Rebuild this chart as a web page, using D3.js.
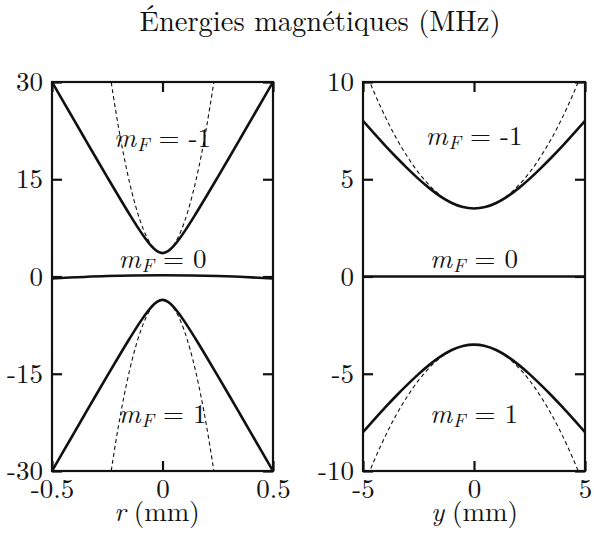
<!DOCTYPE html>
<html>
<head>
<meta charset="utf-8">
<script src="https://cdn.jsdelivr.net/npm/d3@7"></script>
<style>
  body { margin: 0; background: #fff; }
</style>
</head>
<body>
<div id="chart-area"></div>
<script>
// Left panel data : r (mm)
const rValues = [-0.5, -0.45, -0.4, -0.35, -0.3, -0.25, -0.2, -0.15, -0.1, -0.075, -0.05, -0.025, 0,
    0.025, 0.05, 0.075, 0.1, 0.15, 0.2, 0.25, 0.3, 0.35, 0.4, 0.45, 0.5];
const rMinusOne = [30.0, 27.06, 24.11, 21.17, 18.24, 15.33, 12.45, 9.64, 6.96, 5.74, 4.67, 3.90, 3.6,
    3.90, 4.67, 5.74, 6.96, 9.64, 12.45, 15.33, 18.24, 21.17, 24.11, 27.06, 30.0];
const rPlusOne = [-30.0, -27.06, -24.11, -21.17, -18.24, -15.33, -12.45, -9.64, -6.96, -5.74, -4.67, -3.90, -3.6,
    -3.90, -4.67, -5.74, -6.96, -9.64, -12.45, -15.33, -18.24, -21.17, -24.11, -27.06, -30.0];
const rZeroValues = [-0.5, -0.25, 0, 0.25, 0.5];
const rZero = [-0.3, 0.08, 0.2, 0.08, -0.3];
const rHarmValues = [-0.25, -0.225, -0.2, -0.175, -0.15, -0.125, -0.1, -0.075, -0.05, -0.025, 0,
    0.025, 0.05, 0.075, 0.1, 0.125, 0.15, 0.175, 0.2, 0.225, 0.25];
const rHarmMinusOne = [34.23, 28.41, 23.2, 18.61, 14.63, 11.26, 8.5, 6.36, 4.83, 3.91, 3.6,
    3.91, 4.83, 6.36, 8.5, 11.26, 14.63, 18.61, 23.2, 28.41, 34.23];
const rHarmPlusOne = [-34.23, -28.41, -23.2, -18.61, -14.63, -11.26, -8.5, -6.36, -4.83, -3.91, -3.6,
    -3.91, -4.83, -6.36, -8.5, -11.26, -14.63, -18.61, -23.2, -28.41, -34.23];

// Right panel data : y (mm)
const yValues = [-5, -4.5, -4, -3.5, -3, -2.5, -2, -1.5, -1, -0.5, 0, 0.5, 1, 1.5, 2, 2.5, 3, 3.5, 4, 4.5, 5];
const yMinusOne = [8.00, 7.36, 6.73, 6.13, 5.56, 5.02, 4.53, 4.11, 3.78, 3.57, 3.5,
    3.57, 3.78, 4.11, 4.53, 5.02, 5.56, 6.13, 6.73, 7.36, 8.00];
const yPlusOne = [-8.00, -7.36, -6.73, -6.13, -5.56, -5.02, -4.53, -4.11, -3.78, -3.57, -3.5,
    -3.57, -3.78, -4.11, -4.53, -5.02, -5.56, -6.13, -6.73, -7.36, -8.00];
const yZeroValues = [-5, 0, 5];
const yZero = [0, 0, 0];
const yHarmMinusOne = [10.88, 9.47, 8.22, 7.11, 6.16, 5.34, 4.68, 4.16, 3.80, 3.57, 3.5,
    3.57, 3.80, 4.16, 4.68, 5.34, 6.16, 7.11, 8.22, 9.47, 10.88];
const yHarmPlusOne = [-10.88, -9.47, -8.22, -7.11, -6.16, -5.34, -4.68, -4.16, -3.80, -3.57, -3.5,
    -3.57, -3.80, -4.16, -4.68, -5.34, -6.16, -7.11, -8.22, -9.47, -10.88];

// Ticks
const rTicksX = [-0.5, 0, 0.5];
const rTicksY = [-30, -15, 0, 15, 30];
const yTicksX = [-5, 0, 5];
const yTicksY = [-10, -5, 0, 5, 10];

// Labels
const stateLabels = ['-1', '0', '1'];
const titleText = 'Énergies magnétiques (MHz)';

const font = "'Latin Modern Roman', 'Liberation Serif', serif";
const ink = '#111';

// Build SVG
const svg = d3.select('#chart-area')
    .append('svg')
    .attr('width', 594)
    .attr('height', 534)
    .style('display', 'block');

// Title
svg.append('text')
    .attr('x', 320)
    .attr('y', 31)
    .attr('text-anchor', 'middle')
    .style('font-family', font)
    .style('font-size', '28.5px')
    .attr('fill', ink)
    .text(titleText);

const zip = (xs, ys) => xs.map((v, i) => [v, ys[i]]);

const panels = [
    {
        id: 'left', left: 52, right: 273, top: 82, bottom: 471,
        xDomain: [-0.5, 0.5], yDomain: [-30, 30],
        xTicks: rTicksX, yTicks: rTicksY,
        xName: 'r', titleX: 157,
        solid: [zip(rValues, rMinusOne), zip(rZeroValues, rZero), zip(rValues, rPlusOne)],
        dashed: [zip(rHarmValues, rHarmMinusOne), zip(rHarmValues, rHarmPlusOne)],
        labelY: [20, 1.3, -22.6]
    },
    {
        id: 'right', left: 363, right: 585, top: 82, bottom: 471,
        xDomain: [-5, 5], yDomain: [-10, 10],
        xTicks: yTicksX, yTicks: yTicksY,
        xName: 'y', titleX: 474.5,
        solid: [zip(yValues, yMinusOne), zip(yZeroValues, yZero), zip(yValues, yPlusOne)],
        dashed: [zip(yValues, yHarmMinusOne), zip(yValues, yHarmPlusOne)],
        labelY: [6.76, 0.44, -7.53]
    }
];

panels.forEach((p) => {
    // Scales
    const x = d3.scaleLinear().domain(p.xDomain).range([p.left, p.right]);
    const y = d3.scaleLinear().domain(p.yDomain).range([p.bottom, p.top]);

    // Clip
    svg.append('clipPath')
        .attr('id', 'clip-' + p.id)
        .append('rect')
        .attr('x', p.left)
        .attr('y', p.top)
        .attr('width', p.right - p.left)
        .attr('height', p.bottom - p.top);

    const line = d3.line()
        .x((d) => x(d[0]))
        .y((d) => y(d[1]))
        .curve(d3.curveMonotoneX);
    const flatLine = d3.line()
        .x((d) => x(d[0]))
        .y((d) => y(d[1]))
        .curve(d3.curveNatural);

    const plot = svg.append('g').attr('clip-path', 'url(#clip-' + p.id + ')');

    // Harmonic approximations (dashed)
    plot.selectAll('.dashed')
        .data(p.dashed)
        .enter()
        .append('path')
        .attr('class', 'dashed')
        .attr('d', line)
        .attr('fill', 'none')
        .attr('stroke', ink)
        .attr('stroke-width', 1.1)
        .attr('stroke-dasharray', '4,3');

    // Exact energies (solid)
    plot.selectAll('.solid')
        .data(p.solid)
        .enter()
        .append('path')
        .attr('class', 'solid')
        .attr('d', (d, i) => i === 1 ? flatLine(d) : line(d))
        .attr('fill', 'none')
        .attr('stroke', ink)
        .attr('stroke-width', 2.6);

    // Axes (plain hyphen for the minus sign, as in the original)
    const plain = (d) => String(d);
    const axes = [
        { call: d3.axisLeft(y).tickValues(p.yTicks).tickSize(-10).tickPadding(9).tickFormat(plain),
          at: 'translate(' + p.left + ',0)' },
        { call: d3.axisRight(y).tickValues(p.yTicks).tickSize(-10).tickFormat(''),
          at: 'translate(' + p.right + ',0)' },
        { call: d3.axisBottom(x).tickValues(p.xTicks).tickSize(-10).tickPadding(8).tickFormat(plain),
          at: 'translate(0,' + p.bottom + ')' },
        { call: d3.axisTop(x).tickValues(p.xTicks).tickSize(-10).tickFormat(''),
          at: 'translate(0,' + p.top + ')' }
    ];
    axes.forEach((a) => {
        const g = svg.append('g')
            .attr('transform', a.at)
            .call(a.call);
        g.select('.domain').remove();
        g.selectAll('line').attr('stroke', ink).attr('stroke-width', 2.2);
        g.selectAll('text')
            .attr('fill', ink)
            .style('font-family', font)
            .style('font-size', '27px');
    });

    // Frame
    svg.append('rect')
        .attr('x', p.left)
        .attr('y', p.top)
        .attr('width', p.right - p.left)
        .attr('height', p.bottom - p.top)
        .attr('fill', 'none')
        .attr('stroke', ink)
        .attr('stroke-width', 2.2);

    // State labels m_F = ...
    stateLabels.forEach((s, i) => {
        const t = svg.append('text')
            .attr('x', x(0))
            .attr('y', y(p.labelY[i]))
            .attr('text-anchor', 'middle')
            .style('font-family', font)
            .style('font-size', '27px')
            .attr('fill', ink);
        t.append('tspan').style('font-style', 'italic').text('m');
        t.append('tspan').style('font-style', 'italic').style('font-size', '19px')
            .attr('dx', 1).attr('dy', 4).text('F');
        t.append('tspan').attr('dx', 9).attr('dy', -4).text('=');
        t.append('tspan').attr('dx', 9).text(s);
    });

    // X axis title
    const xt = svg.append('text')
        .attr('x', p.titleX)
        .attr('y', 521)
        .attr('text-anchor', 'middle')
        .style('font-family', font)
        .style('font-size', '27px')
        .attr('fill', ink);
    xt.append('tspan').style('font-style', 'italic').text(p.xName);
    xt.append('tspan').attr('dx', 8).text('(mm)');
});
</script>
</body>
</html>
